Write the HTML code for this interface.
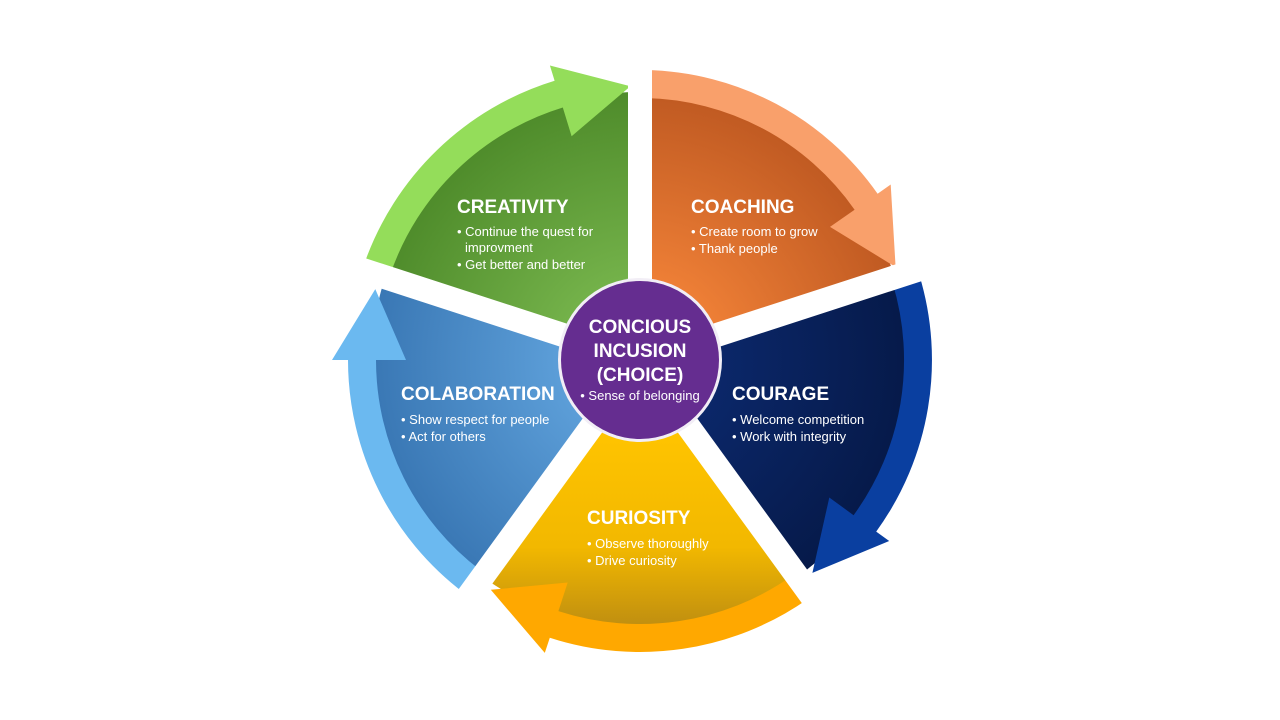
<!DOCTYPE html>
<html><head><meta charset="utf-8"><style>
html,body{margin:0;padding:0;background:#fff;width:1280px;height:720px;overflow:hidden}
svg{display:block}
text{font-family:"Liberation Sans",sans-serif;fill:#fff}
.t{font-size:19px;font-weight:bold}
.b{font-size:13px}
</style></head><body>
<svg id="s" width="1280" height="720" viewBox="0 0 1280 720">
<defs>
<radialGradient id="gG" cx="640" cy="360" r="265" gradientUnits="userSpaceOnUse"><stop offset="0.3" stop-color="#74b24a"/><stop offset="1" stop-color="#4f8c2b"/></radialGradient>
<radialGradient id="gO" cx="640" cy="360" r="265" gradientUnits="userSpaceOnUse"><stop offset="0.3" stop-color="#ee7f36"/><stop offset="1" stop-color="#c05a22"/></radialGradient>
<radialGradient id="gN" cx="640" cy="360" r="265" gradientUnits="userSpaceOnUse"><stop offset="0.3" stop-color="#0b2769"/><stop offset="1" stop-color="#061a4a"/></radialGradient>
<linearGradient id="gY" x1="0" y1="430" x2="0" y2="625" gradientUnits="userSpaceOnUse"><stop offset="0" stop-color="#ffc400"/><stop offset="0.6" stop-color="#f2b800"/><stop offset="1" stop-color="#c08f10"/></linearGradient>
<radialGradient id="gB" cx="640" cy="360" r="265" gradientUnits="userSpaceOnUse"><stop offset="0.3" stop-color="#5c9ed8"/><stop offset="1" stop-color="#3a78b5"/></radialGradient>
</defs>
<g id="w"></g>
<g id="a"></g>
<g id="gaps"></g>
<circle cx="640" cy="360" r="82" fill="#f2eef6"/>
<circle cx="640" cy="360" r="79" fill="#652d90"/>
<text class="t" x="640" y="333" text-anchor="middle">CONCIOUS</text>
<text class="t" x="640" y="357" text-anchor="middle">INCUSION</text>
<text class="t" x="640" y="381" text-anchor="middle">(CHOICE)</text>
<text class="b" x="640" y="400" text-anchor="middle">• Sense of belonging</text>

<text class="t" x="457" y="213">CREATIVITY</text>
<text class="b" x="457" y="236">• Continue the quest for</text>
<text class="b" x="465" y="252">improvment</text>
<text class="b" x="457" y="269">• Get better and better</text>

<text class="t" x="691" y="213">COACHING</text>
<text class="b" x="691" y="236">• Create room to grow</text>
<text class="b" x="691" y="253">• Thank people</text>

<text class="t" x="401" y="400">COLABORATION</text>
<text class="b" x="401" y="424">• Show respect for people</text>
<text class="b" x="401" y="441">• Act for others</text>

<text class="t" x="732" y="400">COURAGE</text>
<text class="b" x="732" y="424">• Welcome competition</text>
<text class="b" x="732" y="441">• Work with integrity</text>

<text class="t" x="587" y="524">CURIOSITY</text>
<text class="b" x="587" y="548">• Observe thoroughly</text>
<text class="b" x="587" y="565">• Drive curiosity</text>
</svg>
<script>
var cx=640,cy=360,NS="http://www.w3.org/2000/svg";
function P(a,r){var t=a*Math.PI/180;return (cx+r*Math.cos(t)).toFixed(1)+","+(cy+r*Math.sin(t)).toFixed(1);}
function el(g,tag,at){var e=document.createElementNS(NS,tag);for(var k in at)e.setAttribute(k,at[k]);document.getElementById(g).appendChild(e);}
var R=268;
var wed=[[198,270,"url(#gG)"],[270,342,"url(#gO)"],[342,414,"url(#gN)"],[54,126,"url(#gY)"],[126,198,"url(#gB)"]];
wed.forEach(function(w){el("w","path",{d:"M"+cx+","+cy+" L"+P(w[0],R)+" A"+R+","+R+" 0 0 1 "+P(w[1],R)+" Z",fill:w[2]});});
function arrow(a0,a1,ri,ro,c){var h=15;var ab=a1-h;
 var d="M"+P(a0,ro)+" A"+ro+","+ro+" 0 0 1 "+P(ab,ro)+" L"+P(ab,ro+16)+" L"+P(a1,(ri+ro)/2-4)+" L"+P(ab,ri-30)+" L"+P(ab,ri)+" A"+ri+","+ri+" 0 0 0 "+P(a0,ri)+" Z";
 el("a","path",{d:d,fill:c});}
arrow(199,268,264,292,"#94dd5a");
arrow(271,340,262,290,"#f9a06b");
arrow(343,411,264,292,"#0a3fa0");
arrow(55,123,264,292,"#ffa800");
arrow(127,195,264,292,"#6bb9f0");
[270,342,54,126,198].forEach(function(a){var q=P(a,360).split(",");el("gaps","line",{x1:cx,y1:cy,x2:q[0],y2:q[1],stroke:"#fff","stroke-width":24});});
</script>
</body></html>
